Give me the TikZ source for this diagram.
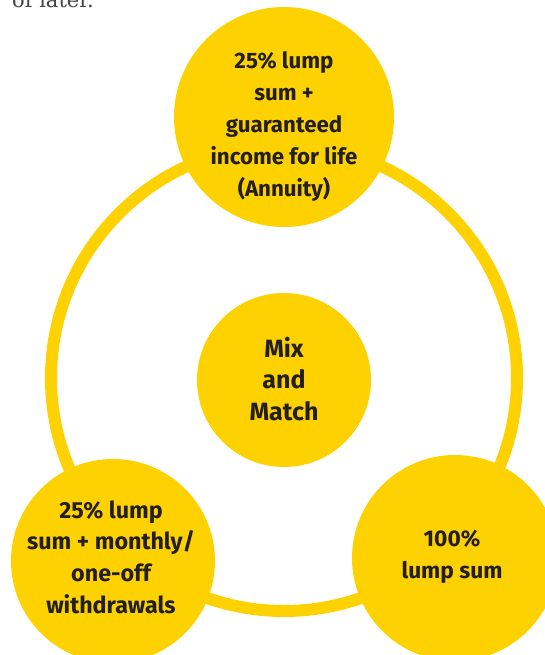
\documentclass[tikz,border=0pt]{standalone}
\usepackage{fontspec}
\setmainfont{Fira Sans}
\newfontfamily\slabfont{DejaVu Serif}
\definecolor{ringyellow}{HTML}{FDD200}
\definecolor{inkdark}{HTML}{231F20}
\definecolor{inkgray}{HTML}{444444}
\begin{document}
\begin{tikzpicture}[x=1pt,y=-1pt,
  bubble/.style={circle,fill=ringyellow,draw=none,inner sep=0pt},
  bubbletext/.style={inner sep=0pt,text=inkdark,align=center,
    font=\bfseries\fontsize{22.3}{32}\selectfont},
  ringline/.style={draw=ringyellow,line width=12pt}]
\useasboundingbox (0,0) rectangle (545,655);
\begin{scope}
\clip (0,0) rectangle (545,655);
\node[font=\slabfont\fontsize{21}{26}\selectfont,text=inkgray,anchor=base west,inner sep=0pt] (prev) at (12,8) {of later.};
\coordinate (ringc) at (284,378);
\draw[ringline] (ringc) circle[radius=233];
\node[bubble,minimum size=220pt] (top) at (284,117) {};
\node[bubbletext] (toptext) at (284,127) {25\% lump\\sum +\\guaranteed\\income for life\\(Annuity)};
\node[bubble,minimum size=174pt] (mix) at (284,380) {};
\node[bubbletext,font=\bfseries\fontsize{25}{31.5}\selectfont] (mixtext) at (284,379) {Mix\\and\\Match};
\node[bubble,minimum size=204pt] (left) at (113,561) {};
\node[bubbletext,font=\bfseries\fontsize{23.3}{31.7}\selectfont] (lefttext) at (111,557) {25\% lump\\sum + monthly/\\one-off\\withdrawals};
\node[bubble,minimum size=206pt] (right) at (455,558) {};
\node[bubbletext,font=\bfseries\fontsize{22.7}{32}\selectfont] (righttext) at (452,557) {100\%\\lump sum};
\end{scope}
\end{tikzpicture}
\end{document}
